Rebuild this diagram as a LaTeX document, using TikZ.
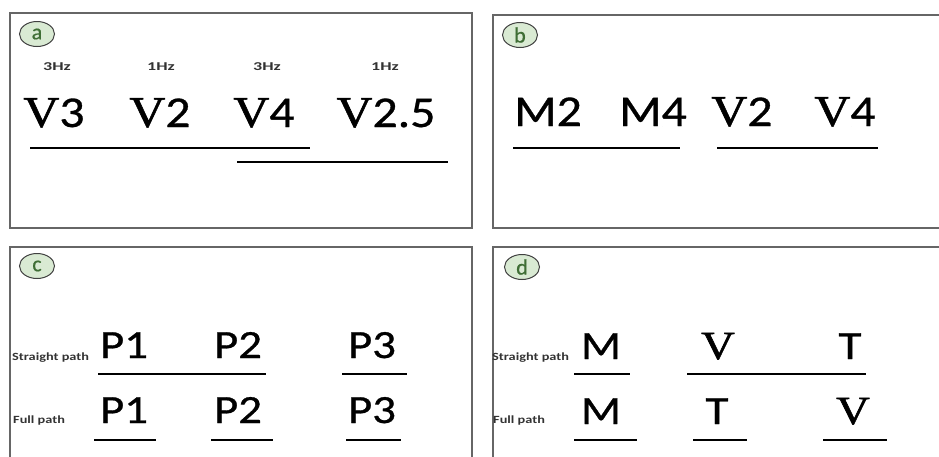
\documentclass[tikz,border=0pt]{standalone}
\usepackage{graphicx}
\usepackage{fontspec}
\setmainfont{Carlito}
\newfontfamily\heavy{Carlito}[FakeBold=0.7]
\newfontfamily\serifv{Liberation Serif}[FakeBold=1.2]
\newcommand{\Vsym}{{\serifv V}}
\newcommand{\wide}[2]{\scalebox{#1}[1]{#2}}
\usetikzlibrary{shapes.geometric}

\definecolor{tagfill}{HTML}{D9EAD3}
\definecolor{tagtext}{HTML}{3F6E35}

\tikzset{
  panel/.style={draw=black!60, line width=1.4pt},
  tag/.style={ellipse, draw=black!75, fill=tagfill, line width=1pt,
    minimum width=35pt, minimum height=25pt, inner sep=0pt, text=tagtext,
    font=\heavy\fontsize{22}{22}\selectfont},
  big/.style={anchor=base, inner sep=0pt, font=\heavy\fontsize{44}{44}\selectfont},
  mid/.style={anchor=base, inner sep=0pt, font=\heavy\fontsize{40}{40}\selectfont},
  small/.style={anchor=base, inner sep=0pt, font=\bfseries\fontsize{12}{12}\selectfont, text=black!80},
  side/.style={anchor=base west, inner sep=0pt, font=\bfseries\fontsize{11}{11}\selectfont, text=black!80},
  uline/.style={line width=2.4pt}
}

\begin{document}
\begin{tikzpicture}[x=1pt, y=-1pt]
  \useasboundingbox (0,0) rectangle (939,456);

  % Panels
  \draw[panel] (10,13) rectangle (472,228);
  \draw[panel] (493,15) rectangle (950,228);
  \draw[panel] (10,247) rectangle (472,470);
  \draw[panel] (493,247) rectangle (950,470);

  % Panel a
  \node[tag] (taga) at (37,34) {a};
  \node[small] (hz1) at (57,70) {\wide{1.5}{3Hz}};
  \node[small] (hz2) at (161,70) {\wide{1.5}{1Hz}};
  \node[small] (hz3) at (267,70) {\wide{1.5}{3Hz}};
  \node[small] (hz4) at (385,70) {\wide{1.5}{1Hz}};
  \node[big] (a1) at (54,127) {\wide{1.13}{\Vsym3}};
  \node[big] (a2) at (160,127) {\wide{1.13}{\Vsym2}};
  \node[big] (a3) at (264,127) {\wide{1.13}{\Vsym4}};
  \node[big] (a4) at (386,127) {\wide{1.13}{\Vsym2.5}};
  \draw[uline] (30,148) -- (310,148);
  \draw[uline] (237,162) -- (448,162);

  % Panel b
  \node[tag] (tagb) at (520,35) {b};
  \node[big] (b1) at (548,126) {\wide{1.13}{M2}};
  \node[big] (b2) at (653,126) {\wide{1.13}{M4}};
  \node[big] (b3) at (742,126) {\wide{1.13}{\Vsym2}};
  \node[big] (b4) at (845,126) {\wide{1.13}{\Vsym4}};
  \draw[uline] (513,148) -- (680,148);
  \draw[uline] (717,148) -- (878,148);

  % Panel c
  \node[tag] (tagc) at (37,266) {c};
  \node[side] (cs) at (12,360) {\wide{1.3}{Straight path}};
  \node[side] (cf) at (13,423) {\wide{1.3}{Full path}};
  \node[mid] (c1) at (124,358) {\wide{1.17}{P1}};
  \node[mid] (c2) at (238,358) {\wide{1.17}{P2}};
  \node[mid] (c3) at (372,358) {\wide{1.17}{P3}};
  \node[mid] (c4) at (124,423) {\wide{1.17}{P1}};
  \node[mid] (c5) at (238,423) {\wide{1.17}{P2}};
  \node[mid] (c6) at (372,423) {\wide{1.17}{P3}};
  \draw[uline] (98,374) -- (266,374);
  \draw[uline] (342,374) -- (407,374);
  \draw[uline] (94,440) -- (156,440);
  \draw[uline] (211,440) -- (273,440);
  \draw[uline] (346,440) -- (401,440);

  % Panel d
  \node[tag] (tagd) at (522,267) {d};
  \node[side] (ds) at (492,360) {\wide{1.3}{Straight path}};
  \node[side] (df) at (493,423) {\wide{1.3}{Full path}};
  \node[mid] (d1) at (601,359) {\wide{1.17}{M}};
  \node[mid] (d2) at (718,359) {\wide{1.17}{\Vsym}};
  \node[mid] (d3) at (850,359) {\wide{1.17}{T}};
  \node[mid] (d4) at (601,424) {\wide{1.17}{M}};
  \node[mid] (d5) at (717,424) {\wide{1.17}{T}};
  \node[mid] (d6) at (853,424) {\wide{1.17}{\Vsym}};
  \draw[uline] (574,374) -- (630,374);
  \draw[uline] (687,374) -- (866,374);
  \draw[uline] (574,440) -- (637,440);
  \draw[uline] (693,440) -- (747,440);
  \draw[uline] (823,440) -- (887,440);

\end{tikzpicture}
\end{document}
